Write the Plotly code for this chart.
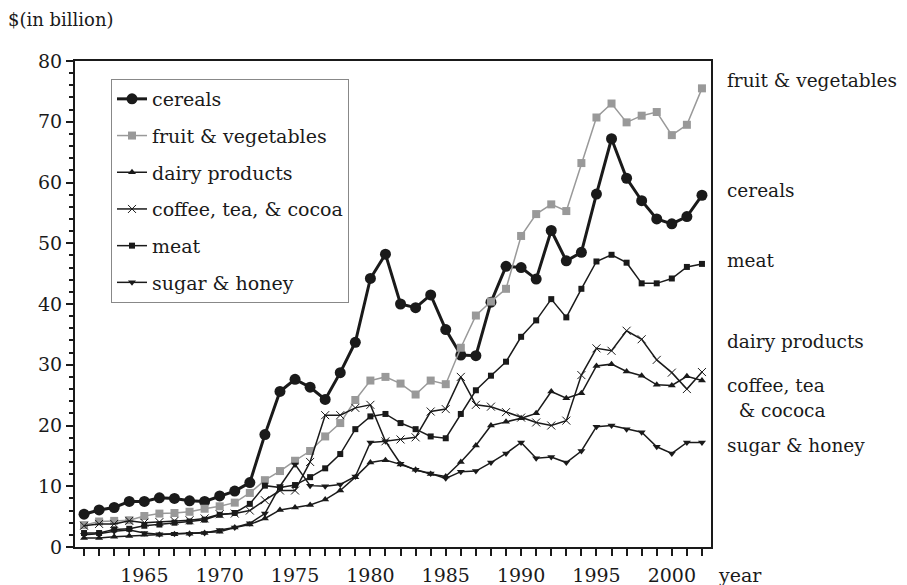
import plotly.graph_objects as go

years = list(range(1961, 2003))

cereals = [5.4, 6.1, 6.5, 7.5, 7.5, 8.1, 8.0, 7.6, 7.5, 8.4, 9.2, 10.6, 18.5, 25.6, 27.6, 26.3, 24.3, 28.7, 33.7, 44.2,
           48.2, 40.0, 39.4, 41.5, 35.8, 31.6, 31.5, 40.3, 46.2, 46.0, 44.1, 52.1, 47.1, 48.5, 58.1, 67.2, 60.7, 57.0,
           54.0, 53.2, 54.4, 57.9]
fruit_veg = [3.6, 4.2, 4.3, 4.4, 5.1, 5.5, 5.6, 5.8, 6.3, 6.7, 7.3, 8.9, 11.0, 12.5, 14.2, 15.8, 18.2, 20.4, 24.2, 27.4,
             28.0, 26.9, 25.1, 27.4, 26.8, 32.8, 38.1, 40.4, 42.5, 51.2, 54.8, 56.4, 55.3, 63.2, 70.7, 73.0, 69.9, 71.0,
             71.6, 67.8, 69.5, 75.5]
dairy = [1.5, 1.5, 1.7, 1.8, 2.0, 2.0, 2.1, 2.2, 2.3, 2.5, 3.2, 3.7, 4.7, 6.1, 6.5, 6.9, 7.8, 9.3, 11.5, 13.9,
         14.3, 13.6, 12.7, 12.0, 11.6, 14.0, 16.7, 20.0, 20.6, 21.2, 22.0, 25.6, 24.5, 25.3, 29.8, 30.1, 28.9, 28.2,
         26.7, 26.6, 28.1, 27.4]
coffee = [3.5, 3.8, 3.8, 4.3, 4.0, 4.1, 4.3, 4.4, 4.7, 5.4, 5.5, 6.0, 7.7, 9.3, 9.3, 14.0, 21.7, 21.7, 22.9, 23.4,
          17.4, 17.7, 18.05, 22.3, 22.7, 28.0, 23.4, 23.1, 22.2, 21.3, 20.5, 20.0, 20.8, 28.3, 32.7, 32.3, 35.6, 34.2,
          30.8, 28.7, 26.0, 28.8]
meat = [2.3, 2.3, 2.9, 3.0, 3.5, 3.7, 4.0, 4.2, 4.5, 5.3, 5.6, 7.1, 10.1, 9.8, 10.2, 11.5, 12.95, 15.3, 19.4, 21.5,
        21.9, 20.4, 19.4, 18.2, 17.9, 21.9, 25.8, 28.2, 30.5, 34.6, 37.3, 40.8, 37.8, 42.5, 47.0, 48.1, 46.8, 43.4,
        43.4, 44.2, 46.1, 46.6]
sugar = [2.0, 2.2, 2.6, 2.8, 2.3, 2.1, 2.2, 2.2, 2.3, 2.8, 3.2, 3.9, 5.5, 10.0, 13.6, 10.1, 10.0, 10.3, 11.6, 17.2,
         17.4, 13.7, 12.7, 12.1, 11.3, 12.4, 12.5, 13.9, 15.4, 17.2, 14.6, 14.8, 13.9, 15.8, 19.8, 20.0, 19.4, 18.9,
         16.5, 15.4, 17.2, 17.2]

x_tick_years = list(range(1965, 2001, 5))
y_ticks = list(range(0, 81, 10))

right_labels = [
    ("fruit & vegetables", 80),
    ("cereals", 190),
    ("meat", 260),
    ("dairy products", 341),
    ("coffee, tea", 385),
    ("  & cococa", 410),
    ("sugar & honey", 445),
]

FONT = "DejaVu Serif, Liberation Serif, serif"
FS = 19
W, H = 907, 585
L, T = 75, 61
R, B = W - 711, H - 547
PW, PH = W - L - R, H - T - B


def px_x(xp):
    return (xp - L) / PW


def px_y(yp):
    return 1 - (yp - T) / PH


fig = go.Figure()

series = [
    ("cereals", cereals, dict(symbol="circle", size=11, color="#1a1a1a"), dict(color="#1a1a1a", width=3)),
    ("fruit & vegetables", fruit_veg, dict(symbol="square", size=8, color="#999999"), dict(color="#999999", width=1.5)),
    ("dairy products", dairy, dict(symbol="triangle-up", size=7, color="#1a1a1a"), dict(color="#1a1a1a", width=1.5)),
    ("coffee, tea, & cocoa", coffee, dict(symbol="x-thin", size=8, color="#1a1a1a",
                                          line=dict(width=1, color="#1a1a1a")), dict(color="#1a1a1a", width=1.5)),
    ("meat", meat, dict(symbol="square", size=6, color="#1a1a1a"), dict(color="#1a1a1a", width=1.5)),
    ("sugar & honey", sugar, dict(symbol="triangle-down", size=7, color="#1a1a1a"), dict(color="#1a1a1a", width=1.5)),
]

for i, (name, vals, mk, ln) in enumerate(series):
    assert len(vals) == len(years)
    fig.add_trace(go.Scatter(x=years, y=vals, name=name, mode="lines+markers",
                             marker=mk, line=ln, legendgroup=f"g{i}"))

annotations = []
for text, ypix in right_labels:
    annotations.append(dict(text=text, xref="paper", yref="paper",
                            x=px_x(725), y=px_y(ypix),
                            xanchor="left", yanchor="middle", showarrow=False,
                            font=dict(family=FONT, size=18.5, color="#1a1a1a")))
annotations.append(dict(text="$(in billion)", xref="paper", yref="paper",
                        x=px_x(6), y=px_y(19), xanchor="left", yanchor="middle",
                        showarrow=False, font=dict(family=FONT, size=18, color="#1a1a1a")))
annotations.append(dict(text="year", xref="paper", yref="paper",
                        x=px_x(716), y=px_y(575), xanchor="left", yanchor="middle",
                        showarrow=False, font=dict(family=FONT, size=FS, color="#1a1a1a")))

fig.update_layout(
    width=W, height=H,
    margin=dict(l=L, r=R, t=T, b=B, autoexpand=False),
    paper_bgcolor="white", plot_bgcolor="white",
    font=dict(family=FONT, size=FS, color="#1a1a1a"),
    showlegend=True,
    legend=dict(x=px_x(111), y=px_y(79), xanchor="left", yanchor="top",
                bgcolor="white", bordercolor="#888888", borderwidth=1,
                font=dict(family=FONT, size=FS, color="#1a1a1a"),
                tracegroupgap=9, itemwidth=30),
    annotations=annotations,
)

fig.update_xaxes(range=[1960.4, 2002.6], tickvals=x_tick_years, ticktext=[str(v) for v in x_tick_years],
                 automargin=False,
                 ticks="outside", ticklen=7, tickwidth=2, tickcolor="#1a1a1a", ticklabelstandoff=3,
                 minor=dict(dtick=1, tick0=1961, ticks="outside", ticklen=7, tickwidth=2, tickcolor="#1a1a1a"),
                 showline=True, linecolor="#1a1a1a", linewidth=2, mirror=True,
                 showgrid=False, zeroline=False, tickfont=dict(family=FONT, size=FS))
fig.update_yaxes(range=[0, 80], tickvals=y_ticks, automargin=False,
                 ticks="outside", ticklen=7, tickwidth=2, tickcolor="#1a1a1a",
                 minor=dict(dtick=2, ticks="outside", ticklen=4, tickwidth=1.5, tickcolor="#1a1a1a"),
                 showline=True, linecolor="#1a1a1a", linewidth=2, mirror=True,
                 showgrid=False, zeroline=False, tickfont=dict(family=FONT, size=FS))

# remove the default page margin so the 907x585 figure fills the window exactly
fig.write_html("out.html", config={"displayModeBar": False},
               post_script="document.body.style.margin='0';document.body.style.overflow='hidden';")
